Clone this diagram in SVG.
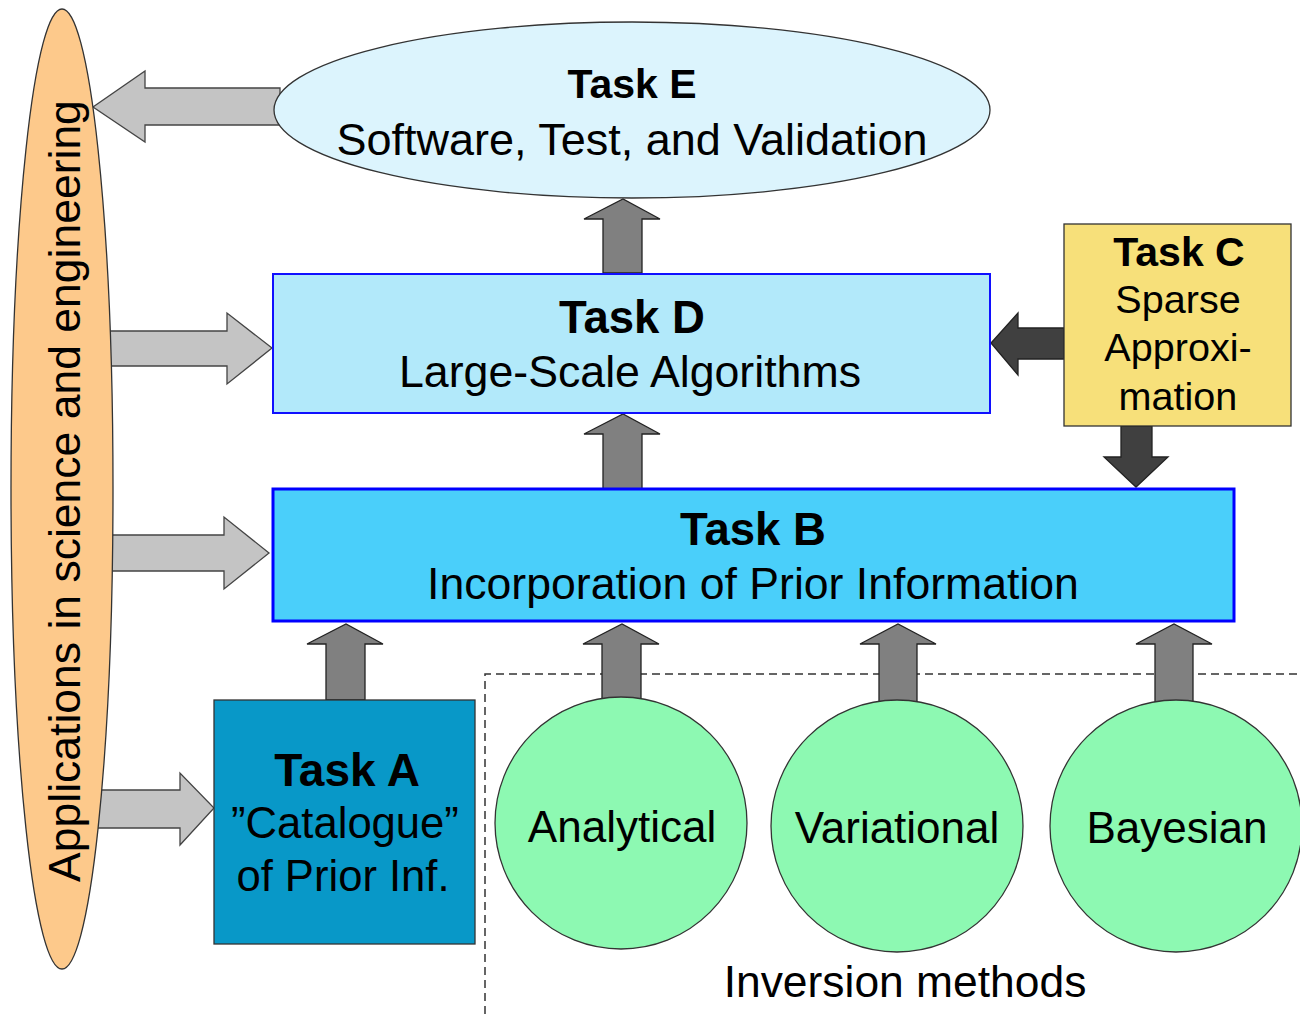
<svg xmlns="http://www.w3.org/2000/svg" width="1300" height="1014" viewBox="0 0 1300 1014">
<style>
text { font-family: "Liberation Sans", Arial, sans-serif; fill: #000; text-anchor: middle; }
.b { font-weight: bold; }
.light { fill: #C4C4C4; stroke: #444; stroke-width: 1.3; }
.mid { fill: #808080; stroke: #222; stroke-width: 1.3; }
.dark { fill: #404040; stroke: #222; stroke-width: 1.3; }
.edge { stroke: #333; stroke-width: 1.3; }
</style>
<rect width="1300" height="1014" fill="#fff"/>
<path d="M485,1014 L485,674 L1300,674" fill="none" stroke="#333" stroke-width="1.5" stroke-dasharray="8,5"/>
<g id="connectors">
  <path class="light" d="M280,88 L145,88 L145,71 L93,107 L145,142 L145,125 L280,125 Z"/>
  <path class="light" d="M100,331 L227,331 L227,313 L272,348 L227,384 L227,366 L100,366 Z"/>
  <path class="light" d="M100,535 L224,535 L224,517 L269,553 L224,589 L224,571 L100,571 Z"/>
  <path class="light" d="M90,790 L180,790 L180,773 L214,808 L180,845 L180,828 L90,828 Z"/>
  <path class="mid" d="M603,273 L603,219 L584,219 L623,199 L660,219 L642,219 L642,273 Z"/>
  <path class="mid" d="M603,489 L603,434 L584,434 L623,414 L660,434 L642,434 L642,489 Z"/>
  <path class="mid" d="M326,700 L326,644 L307,644 L346,624 L383,644 L365,644 L365,700 Z"/>
  <path class="mid" d="M602,699 L602,644 L583,644 L622,624 L659,644 L641,644 L641,699 Z"/>
  <path class="mid" d="M879,702 L879,644 L860,644 L898,624 L936,644 L917,644 L917,702 Z"/>
  <path class="mid" d="M1155,702 L1155,644 L1136,644 L1174,624 L1212,644 L1193,644 L1193,702 Z"/>
  <path class="dark" d="M1064,328 L1018,328 L1018,313 L991,343 L1018,375 L1018,359 L1064,359 Z"/>
  <path class="dark" d="M1121,426 L1121,457 L1104,457 L1136,487 L1168,457 L1152,457 L1152,426 Z"/>
</g>
<g id="applications">
  <ellipse cx="62" cy="489" rx="51" ry="480" fill="#FDC98B" class="edge"/>
  <text transform="translate(80,491) rotate(-90)" font-size="44.5">Applications in science and engineering</text>
</g>
<g id="taskE">
  <ellipse cx="632" cy="110" rx="358" ry="88" fill="#DCF4FD" class="edge"/>
  <text x="632" y="98" font-size="41" class="b">Task E</text>
  <text x="632" y="155" font-size="45">Software, Test, and Validation</text>
</g>
<g id="taskD">
  <rect x="273" y="274" width="717" height="139" fill="#B2E9FA" stroke="#1010FF" stroke-width="2"/>
  <text x="632" y="333" font-size="45.5" class="b">Task D</text>
  <text x="630" y="387" font-size="44.7">Large-Scale Algorithms</text>
</g>
<g id="taskC">
  <rect x="1064" y="224" width="227" height="202" fill="#F7E07A" class="edge"/>
  <text x="1179" y="266" font-size="41" class="b">Task C</text>
  <text x="1178" y="313" font-size="39.6">Sparse</text>
  <text x="1178" y="361" font-size="39.6">Approxi-</text>
  <text x="1178" y="410" font-size="39.6">mation</text>
</g>
<g id="taskB">
  <rect x="273" y="489" width="961" height="132" fill="#4ACFFA" stroke="#0000FF" stroke-width="3"/>
  <text x="753" y="545" font-size="45.5" class="b">Task B</text>
  <text x="753" y="599" font-size="44.6">Incorporation of Prior Information</text>
</g>
<g id="taskA">
  <rect x="214" y="700" width="261" height="244" fill="#0898C8" class="edge"/>
  <text x="347" y="786" font-size="46" class="b">Task A</text>
  <text x="345" y="838" font-size="43.6">”Catalogue”</text>
  <text x="343" y="891" font-size="43.6">of Prior Inf.</text>
</g>
<g id="analytical">
  <circle cx="621" cy="823" r="126" fill="#8DF9B2" class="edge"/>
  <text x="622" y="842" font-size="44">Analytical</text>
</g>
<g id="variational">
  <circle cx="897" cy="826" r="126" fill="#8DF9B2" class="edge"/>
  <text x="897" y="843" font-size="44">Variational</text>
</g>
<g id="bayesian">
  <circle cx="1176" cy="826" r="126" fill="#8DF9B2" class="edge"/>
  <text x="1177" y="843" font-size="44">Bayesian</text>
</g>
<text x="905" y="997" font-size="44.4">Inversion methods</text>
</svg>
